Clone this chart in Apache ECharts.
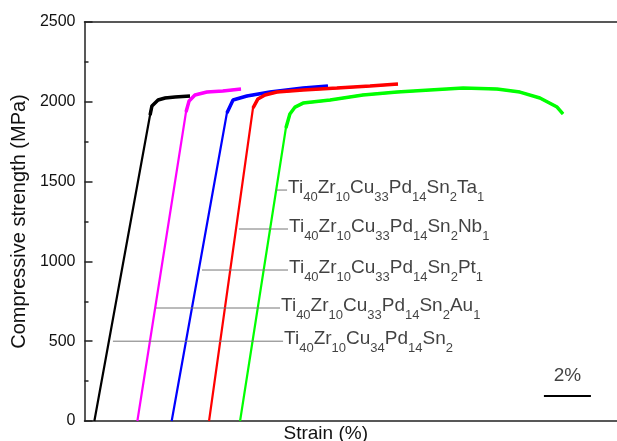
<!DOCTYPE html>
<html>
<head>
<meta charset="utf-8">
<script src="https://cdn.jsdelivr.net/npm/echarts@6/dist/echarts.min.js"></script>
<style>
  html, body { margin: 0; padding: 0; background: #fff; }
  #chart { width: 617px; height: 441px; }
</style>
</head>
<body>
<div id="chart"></div>
<script>
// stress-strain curves, [strain %, stress MPa], curves offset along x
var curveSn2 = [[0.42, 0], [2.79, 1917], [2.87, 1974], [3.13, 2011], [3.43, 2024], [3.85, 2030], [4.49, 2036]]
var curveAu = [[2.25, 0], [4.32, 1936], [4.45, 2005], [4.70, 2043], [5.21, 2061], [5.89, 2068], [6.66, 2080]]
var curvePt = [[3.71, 0], [6.06, 1930], [6.32, 2011], [6.91, 2036], [7.89, 2061], [9.30, 2086], [10.36, 2099]]
var curveNb = [[5.30, 0], [7.17, 1961], [7.38, 2018], [7.68, 2043], [8.19, 2061], [9.30, 2074], [10.74, 2086], [12.15, 2099], [13.34, 2111]]
var curveTa = [[6.62, 0], [8.57, 1836], [8.74, 1924], [8.96, 1967], [9.30, 1992], [10.45, 2011], [11.85, 2043], [13.30, 2061],
  [14.70, 2074], [16.11, 2086], [17.55, 2080], [18.53, 2061], [19.38, 2024], [20.11, 1967], [20.36, 1924]]

var curves = [curveSn2, curveAu, curvePt, curveNb, curveTa]
var curveColors = ['#000000', '#ff00ff', '#0000ff', '#ff0000', '#00ff00']

// labels and their leader lines
var labelNames = ['Ti40Zr10Cu33Pd14Sn2Ta1', 'Ti40Zr10Cu33Pd14Sn2Nb1', 'Ti40Zr10Cu33Pd14Sn2Pt1', 'Ti40Zr10Cu33Pd14Sn2Au1', 'Ti40Zr10Cu34Pd14Sn2']
var leaderStress = [1447, 1203, 946, 708, 500]
var leaderFrom = [8.15, 6.57, 5.00, 3.04, 1.21]
var leaderTo = [8.62, 8.66, 8.66, 8.32, 8.45]

// scale bar: 2 % of strain
var scaleBar = [[19.55, 157], [21.55, 157]]
var scaleText = '2%'

var yTicks = [0, 500, 1000, 1500, 2000, 2500]

function richName (s) {
  return s.replace(/([A-Z][a-z]?)(\d+)/g, '{m|$1}{s|$2}')
}

var series = []
curves.forEach(function (c, i) {
  series.push({
    type: 'line', data: c, showSymbol: false, silent: true,
    lineStyle: { color: curveColors[i], width: 2.2 }
  })
  series.push({
    type: 'line', data: c.slice(1), showSymbol: false, silent: true,
    lineStyle: { color: curveColors[i], width: 3.5 }
  })
})
leaderStress.forEach(function (s, i) {
  series.push({
    type: 'line', data: [[leaderFrom[i], s], [leaderTo[i], s]], showSymbol: false, silent: true,
    lineStyle: { color: '#777', width: 1 }
  })
})
series.push({
  type: 'scatter', symbolSize: 0, silent: true,
  data: leaderStress.map(function (s, i) {
    return { value: [leaderTo[i], s], label: { formatter: richName(labelNames[i]) } }
  }),
  label: {
    show: true, position: 'right', distance: 1, offset: [0, -1],
    rich: {
      m: { fontSize: 19, lineHeight: 22, verticalAlign: 'top', color: '#111', fontFamily: 'Liberation Sans' },
      s: { fontSize: 13, lineHeight: 12, verticalAlign: 'top', padding: [13, 0, 0, 0], color: '#111', fontFamily: 'Liberation Sans' }
    }
  }
})
series.push({
  type: 'line', data: scaleBar, showSymbol: false, silent: true,
  lineStyle: { color: '#000', width: 2 }
})
series.push({
  type: 'scatter', symbolSize: 0, silent: true,
  data: [[(scaleBar[0][0] + scaleBar[1][0]) / 2, scaleBar[0][1]]],
  label: { show: true, position: 'top', distance: 11, formatter: scaleText, fontSize: 19, color: '#111', fontFamily: 'Liberation Sans' }
})

var chart = echarts.init(document.getElementById('chart'))
chart.setOption({
  animation: false,
  backgroundColor: '#fff',
  grid: { left: 84.5, right: 0, top: 22, bottom: 20, outerBoundsMode: 'none', containLabel: false },
  xAxis: [{
    type: 'value', min: 0, max: 22.66,
    name: 'Strain (%)', nameLocation: 'middle', nameGap: 3,
    nameTextStyle: { fontSize: 19, color: '#111', fontFamily: 'Liberation Sans', padding: [0, 50, 0, 0] },
    axisLine: { show: true, lineStyle: { color: '#222', width: 1.5 } },
    axisTick: { show: false }, axisLabel: { show: false }, splitLine: { show: false }
  }, {
    type: 'value', min: 0, max: 22.66, position: 'top',
    axisLine: { show: true, lineStyle: { color: '#222', width: 1.5 } },
    axisTick: { show: false }, axisLabel: { show: false }, splitLine: { show: false }
  }],
  yAxis: {
    type: 'value', min: yTicks[0], max: yTicks[yTicks.length - 1], interval: 500,
    name: 'Compressive strength (MPa)', nameLocation: 'middle', nameGap: 49,
    nameTextStyle: { fontSize: 20, color: '#111', fontFamily: 'Liberation Sans' },
    axisLine: { show: true, lineStyle: { color: '#222', width: 1.5 } },
    axisTick: { show: true, inside: true, length: 8, lineStyle: { color: '#222', width: 1.5 } },
    minorTick: { show: true, splitNumber: 2, length: 4, lineStyle: { color: '#222', width: 1.5 } },
    axisLabel: { fontSize: 16, color: '#111', fontFamily: 'Liberation Sans', margin: 9, formatter: function (v) { return String(v) } },
    splitLine: { show: false }
  },
  series: series
})
</script>
</body>
</html>
